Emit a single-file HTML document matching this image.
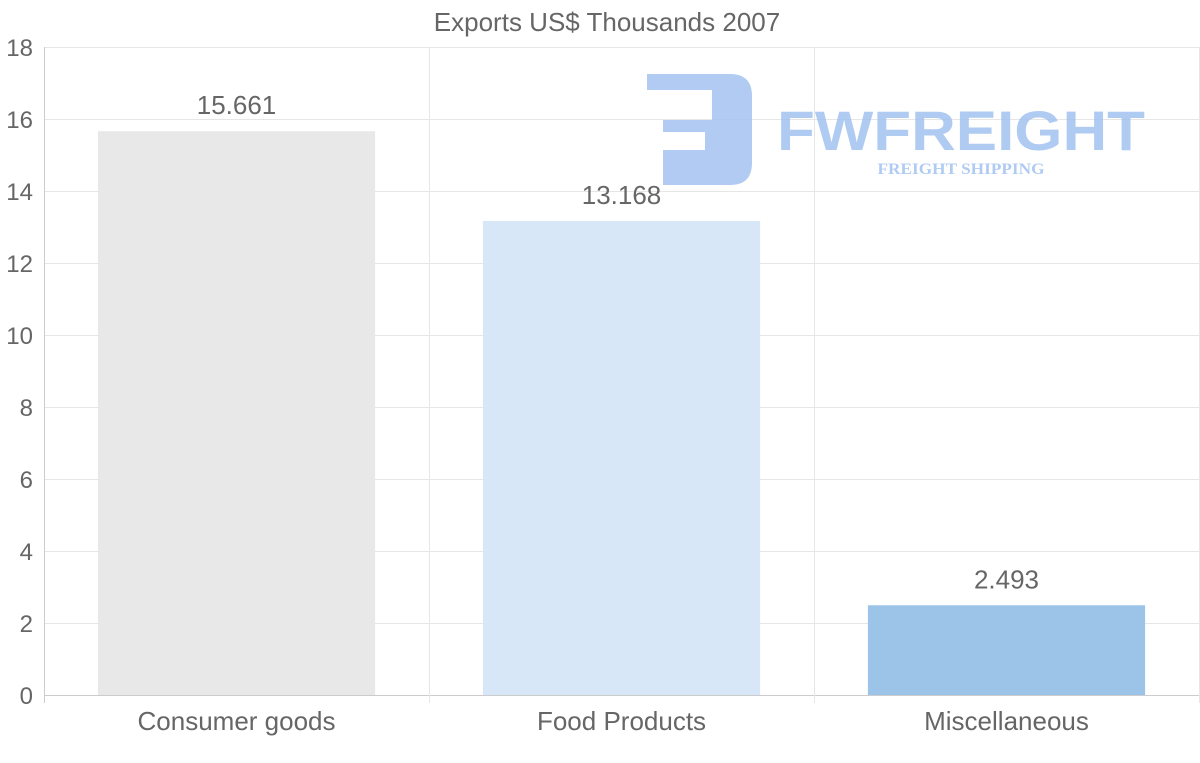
<!DOCTYPE html>
<html><head><meta charset="utf-8"><style>
body{margin:0;background:#fff;}
svg{display:block;font-family:"Liberation Sans",sans-serif;}
</style></head><body>
<svg id="chart" width="1200" height="763">
<text x="607" y="31" text-anchor="middle" font-size="26" fill="#666">Exports US$ Thousands 2007</text>
<g id="grid"></g>
<g id="bars"></g>
<g opacity="0.85">
<path d="M647,74 H730 Q752,74 752,96 V163 Q752,185 730,185 H663 V150 H705 V132 H663 V120 H712 V90 H647 Z" fill="#a3c2f0"/>
<text x="961" y="150" text-anchor="middle" font-size="56" font-weight="bold" fill="#a3c2f0" textLength="368" lengthAdjust="spacingAndGlyphs">FWFREIGHT</text>
<text x="961" y="174" text-anchor="middle" font-size="16" font-weight="bold" font-family="Liberation Serif,serif" fill="#a3c2f0" textLength="167" lengthAdjust="spacingAndGlyphs">FREIGHT SHIPPING</text>
</g>
<g id="labels"></g>
</svg>
<script>
const categories=["Consumer goods","Food Products","Miscellaneous"];
const values=[15.661,13.168,2.493];
const valueLabels=["15.661","13.168","2.493"];
const colors=["#e8e8e8","#d7e7f8","#9bc4e8"];
const yTicks=[0,2,4,6,8,10,12,14,16,18];
const L=44,R=1199,T=47,B=695,yMax=18;
const ns="http://www.w3.org/2000/svg";
const y=v=>B-(v/yMax)*(B-T);
const bw=(R-L)/categories.length;
const x=i=>L+bw*i;
function mk(tag,attrs,parent,txt){const e=document.createElementNS(ns,tag);for(const k in attrs)e.setAttribute(k,attrs[k]);if(txt!==undefined)e.textContent=txt;parent.appendChild(e);return e;}
const grid=document.getElementById('grid'),bars=document.getElementById('bars'),labels=document.getElementById('labels');
yTicks.forEach(t=>{
 const l=mk('line',{x1:L,x2:R+1,y1:y(t)+0.5,y2:y(t)+0.5,stroke:t===0?'#ccc':'#e6e6e6'},grid);
 
 
 const tx=mk('text',{x:33,y:y(t)+9,'text-anchor':'end','font-size':24,fill:'#666'},grid,String(t));
 
 
});
for(let i=0;i<=categories.length;i++){
 const l=mk('line',{x1:x(i)+0.5,x2:x(i)+0.5,y1:T,y2:B+8,stroke:i===0?'#ccc':'#e6e6e6'},grid);
 
 
}
categories.forEach((c,i)=>{
 const w=bw*0.72,cx=x(i)+bw/2;
 const r=mk('rect',{x:cx-w/2,y:y(values[i]),width:w,height:B-y(values[i]),fill:colors[i]},bars);
 
 
 const v=mk('text',{x:cx,y:y(values[i])-17,'text-anchor':'middle','font-size':26,fill:'#666'},labels,valueLabels[i]);
 
 
 const t=mk('text',{x:cx,y:730,'text-anchor':'middle','font-size':26,fill:'#666'},labels,c);
 
 
});
</script>
</body></html>
